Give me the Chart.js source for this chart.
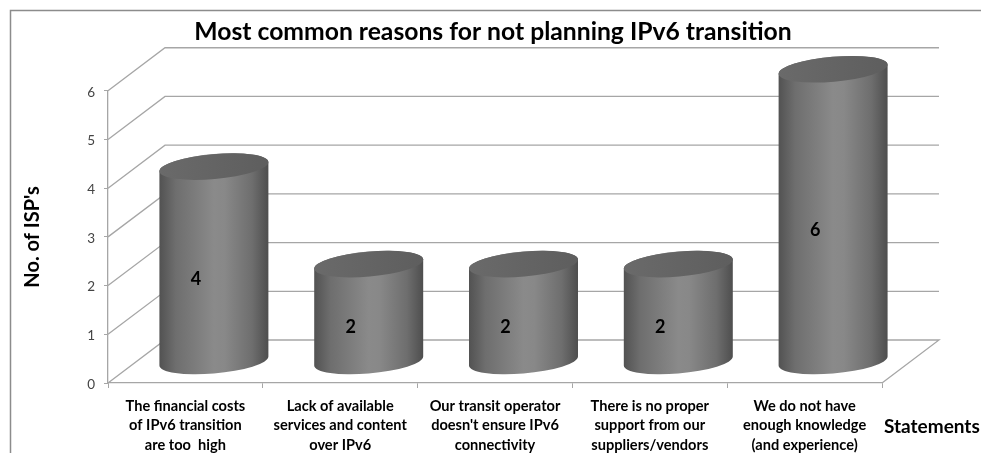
<!DOCTYPE html>
<html>
<head>
    <title>Most common reasons for not planning IPv6 transition</title>
    <style>
        html, body { margin: 0; padding: 0; background: #ffffff; overflow: hidden; }
        #wrap { width: 981px; height: 453px; }
    </style>
</head>
<body>
    <div id="wrap"><canvas id="chart" width="981" height="453"></canvas></div>

    <script src="https://cdn.jsdelivr.net/npm/chart.js"></script>
    <script>
        const categories = [
            ['The financial costs', 'of IPv6 transition', 'are too  high'],
            ['Lack of available', 'services and content', 'over IPv6'],
            ['Our transit operator', "doesn't ensure IPv6", 'connectivity'],
            ['There is no proper', 'support from our', 'suppliers/vendors'],
            ['We do not have', 'enough knowledge', '(and experience)']
        ];
        const isps = [4, 2, 2, 2, 6];
        const yTicks = [0, 1, 2, 3, 4, 5, 6];

        const FONT = 'Lato, Carlito, "Open Sans", sans-serif';
        const LINE = '#a6a6a6';
        const DEPTH_X = 57, DEPTH_Y = 43;   // how far the back wall sits from the front axes
        const TILT = -5 * Math.PI / 180;    // the ellipses lean up to the right

        // frame, back wall and floor lines, under the cylinders
        const wallPlugin = {
            id: 'wall',
            afterLayout(chart) {
                // title sits slightly right of centre
                chart.titleBlock.left = 5;
                chart.titleBlock.right = 981;
            },
            beforeDatasetsDraw(chart) {
                const { ctx, scales: { x, y } } = chart;
                ctx.save();
                ctx.strokeStyle = '#8c8c8c';
                ctx.lineWidth = 1.5;
                ctx.beginPath();
                ctx.moveTo(10.5, 453);
                ctx.lineTo(10.5, 10.5);
                ctx.lineTo(981, 10.5);
                ctx.stroke();

                ctx.strokeStyle = LINE;
                ctx.lineWidth = 1.3;
                yTicks.forEach(v => {
                    const py = y.getPixelForValue(v);
                    ctx.beginPath();
                    ctx.moveTo(x.left, py);
                    ctx.lineTo(x.left + DEPTH_X, py - DEPTH_Y);
                    ctx.lineTo(x.right + DEPTH_X, py - DEPTH_Y);
                    if (v === 0) ctx.lineTo(x.right, py);
                    ctx.stroke();
                });
                ctx.restore();
            },
            afterDatasetsDraw(chart) {
                const { ctx } = chart;
                const bars = chart.getDatasetMeta(0).data;
                bars.forEach((bar, i) => {
                    drawCylinder(ctx, bar);
                });
                // value labels on top of the cylinders
                ctx.save();
                ctx.fillStyle = '#000000';
                ctx.font = 'bold 18px ' + FONT;
                ctx.textAlign = 'center';
                ctx.textBaseline = 'middle';
                bars.forEach((bar, i) => {
                    ctx.fillText(isps[i], bar.x + 10.5, (bar.y + bar.base) / 2 - 6.5);
                });
                ctx.font = 'bold 19px ' + FONT;
                ctx.textAlign = 'left';
                ctx.fillText('Statements', 884, 427);
                ctx.restore();
            }
        };

        function drawCylinder(ctx, bar) {
            const cx = bar.x + DEPTH_X / 2;
            const top = bar.y - DEPTH_Y / 2;
            const bottom = bar.base - DEPTH_Y / 2;
            const a = bar.width / 2 + 0.2, b = 12.5;
            const t0 = Math.atan(-(b / a) * Math.tan(TILT));
            const left = cx - bar.width / 2, right = cx + bar.width / 2;

            const side = ctx.createLinearGradient(left, 0, right, 0);
            side.addColorStop(0, '#525252');
            side.addColorStop(0.15, '#6e6e6e');
            side.addColorStop(0.5, '#8a8a8a');
            side.addColorStop(0.6, '#888888');
            side.addColorStop(0.85, '#6e6e6e');
            side.addColorStop(1, '#4e4e4e');

            ctx.save();
            ctx.fillStyle = side;
            ctx.beginPath();
            ctx.ellipse(cx, bottom, a, b, TILT, t0, t0 + Math.PI, false);
            ctx.ellipse(cx, top, a, b, TILT, t0 + Math.PI, t0, false);
            ctx.closePath();
            ctx.fill();

            const cap = ctx.createLinearGradient(left, 0, right, 0);
            cap.addColorStop(0, '#6a6a6a');
            cap.addColorStop(1, '#5e5e5e');
            ctx.fillStyle = cap;
            ctx.beginPath();
            ctx.ellipse(cx, top, a, b, TILT, 0, Math.PI * 2);
            ctx.fill();
            ctx.restore();
        }

        new Chart(document.getElementById('chart'), {
            type: 'bar',
            data: {
                labels: categories,
                datasets: [{
                    label: "No. of ISP's",
                    data: isps,
                    backgroundColor: 'rgba(0,0,0,0)',   // wallPlugin paints the cylinders
                    categoryPercentage: 1,
                    barPercentage: 0.704
                }]
            },
            options: {
                responsive: false,
                animation: false,
                layout: { padding: { left: 0, right: 99, top: 0, bottom: 0 } },
                plugins: {
                    legend: { display: false },
                    tooltip: { enabled: false },
                    title: {
                        display: true,
                        text: 'Most common reasons for not planning IPv6 transition',
                        color: '#000000',
                        font: { family: FONT, size: 24.7, weight: 'bold', lineHeight: 1.2 },
                        padding: { top: 17.6, bottom: 43.5 }
                    }
                },
                scales: {
                    x: {
                        grid: { drawOnChartArea: false, color: LINE, tickLength: 5 },
                        border: { color: LINE, width: 1.3 },
                        ticks: {
                            color: '#000000',
                            font: { family: FONT, size: 14.6, weight: 'bold', lineHeight: 1.35 },
                            maxRotation: 0,
                            autoSkip: false,
                            padding: 8
                        },
                        afterFit(scale) { scale.height = 70; }
                    },
                    y: {
                        min: 0,
                        max: 6,
                        afterBuildTicks(scale) { scale.ticks = yTicks.map(v => ({ value: v })); },
                        grid: { drawOnChartArea: false, color: LINE, tickLength: 4 },
                        border: { color: LINE, width: 1.3 },
                        ticks: {
                            color: '#444444',
                            font: { family: FONT, size: 13.5 },
                            padding: 9,
                            labelOffset: 1.5
                        },
                        title: {
                            display: true,
                            text: "No. of ISP's",
                            color: '#000000',
                            font: { family: FONT, size: 20, weight: 'bold' },
                            padding: { top: 21, bottom: 0 }
                        },
                        afterFit(scale) { scale.width = 108; }
                    }
                }
            },
            plugins: [wallPlugin]
        });
    </script>
</body>
</html>
